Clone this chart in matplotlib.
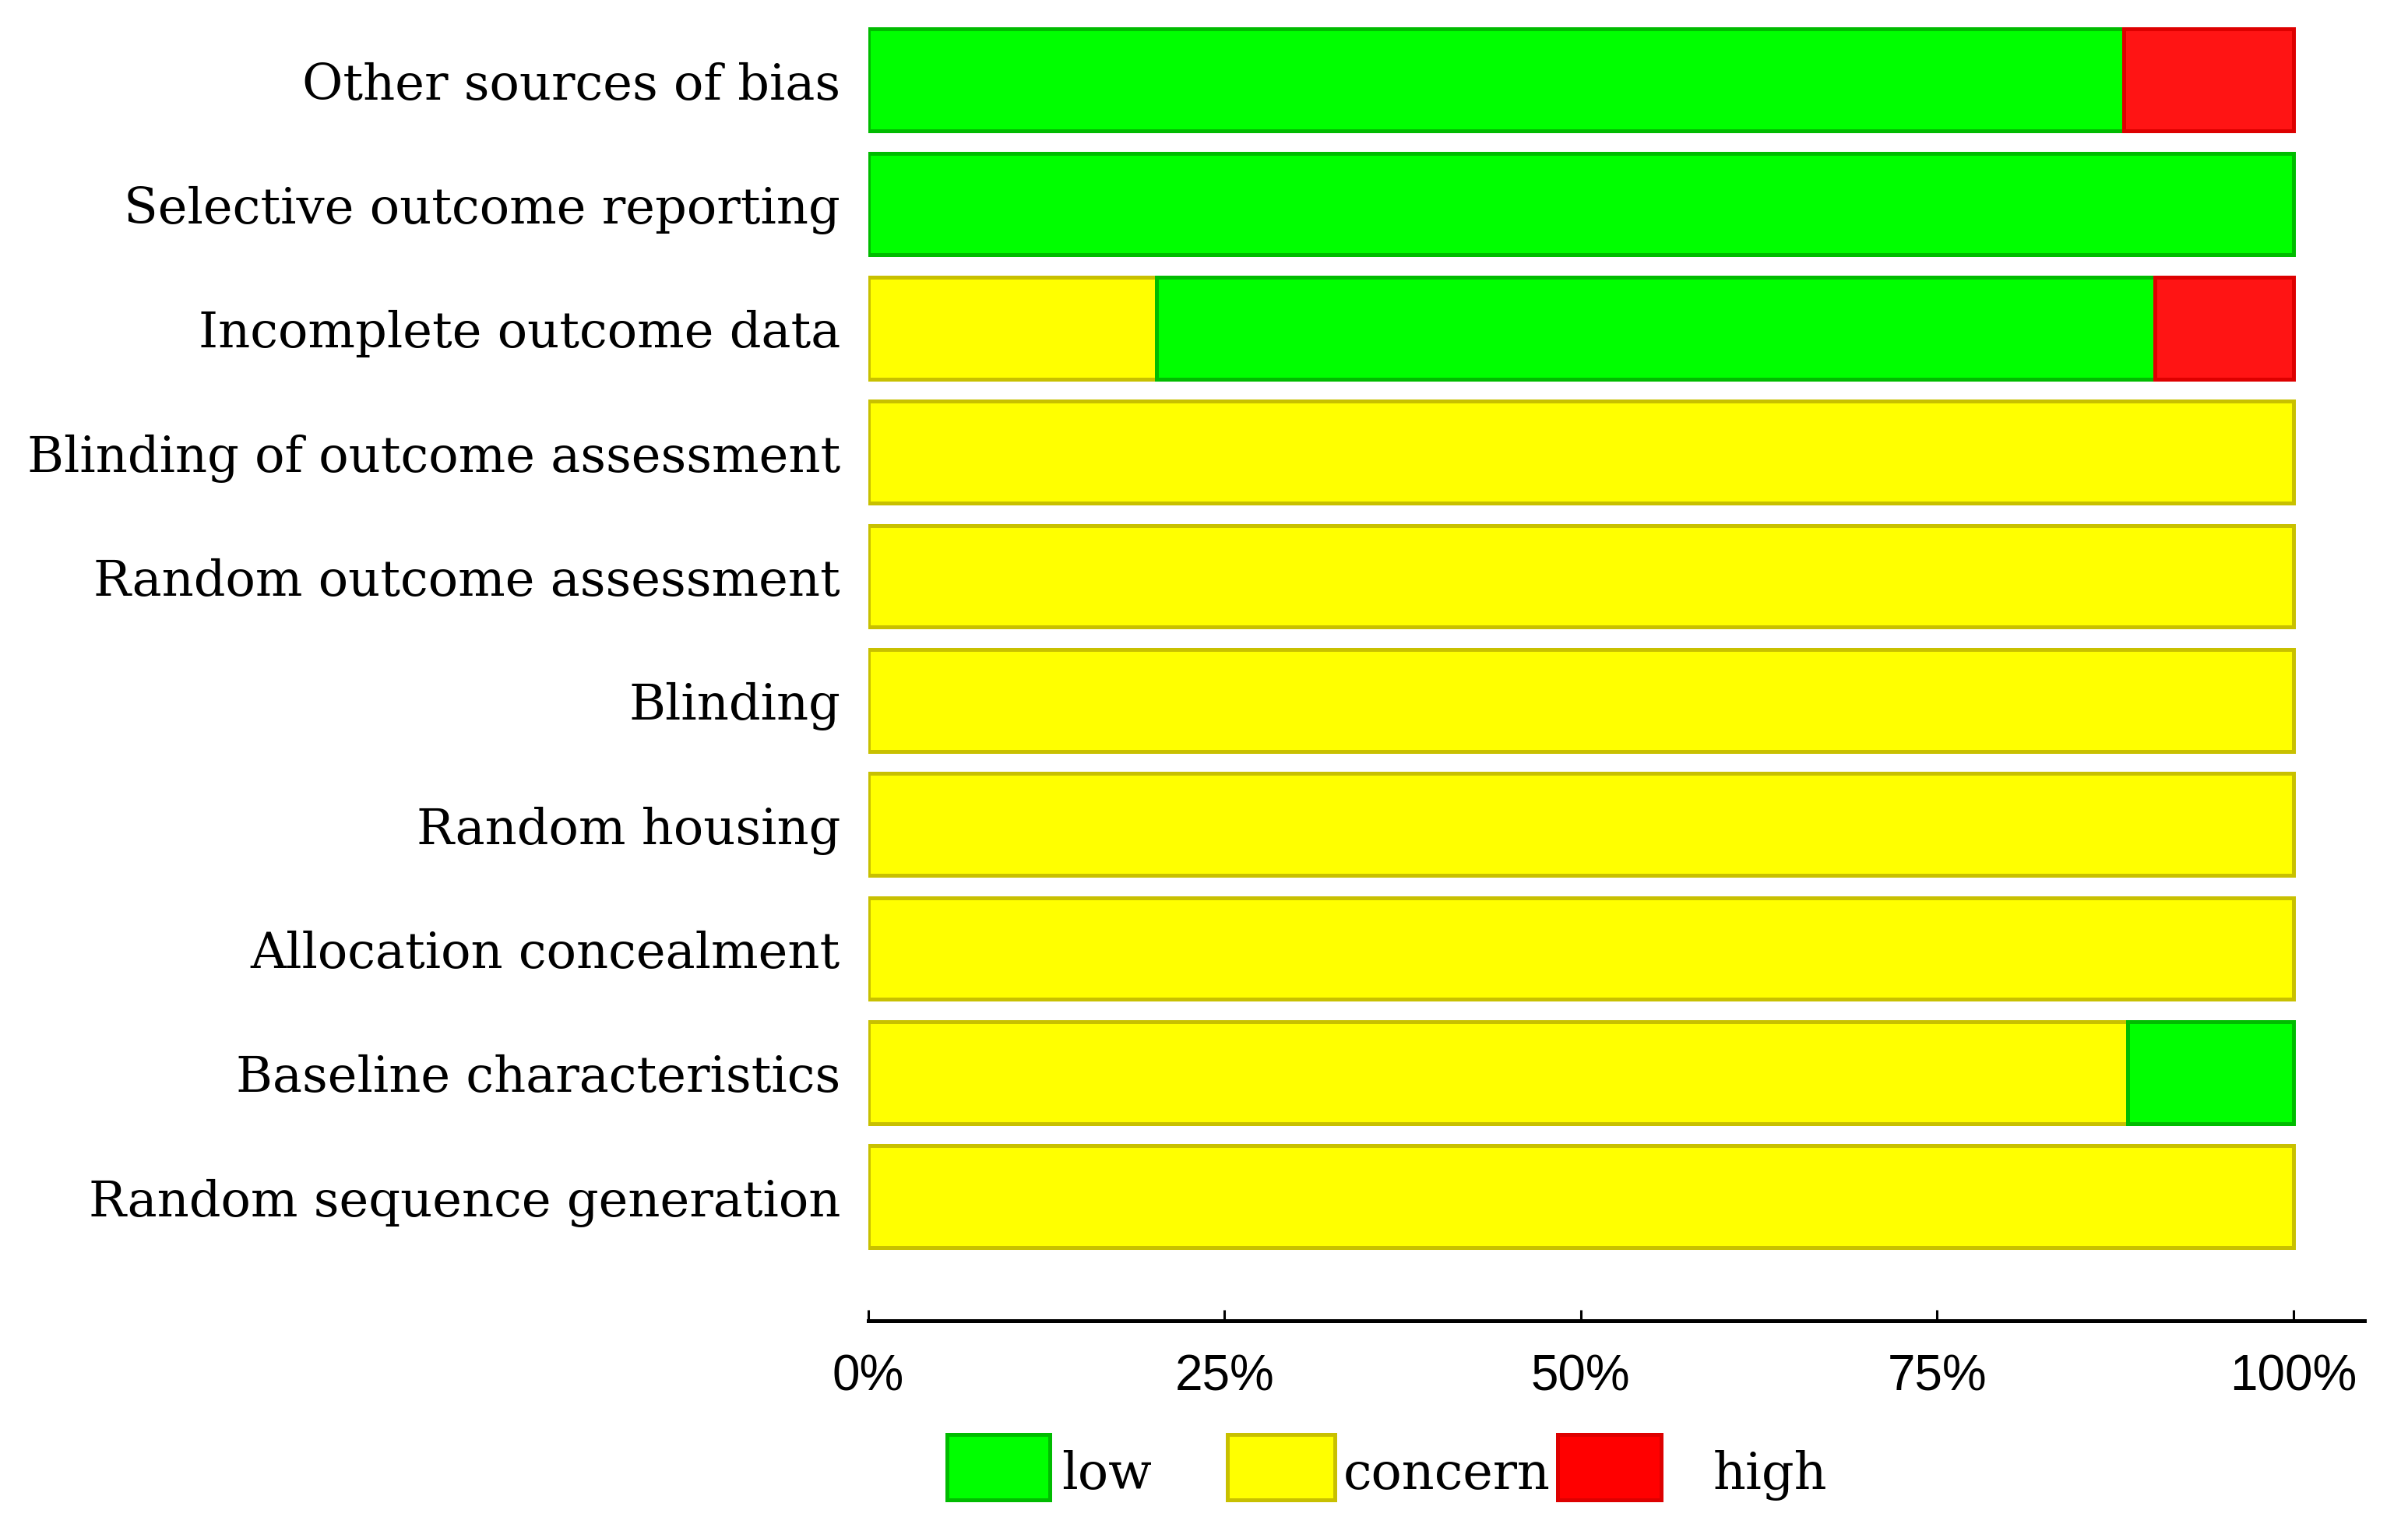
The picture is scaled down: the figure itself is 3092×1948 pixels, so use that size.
import matplotlib
matplotlib.use("Agg")
import matplotlib.pyplot as plt
from matplotlib.patches import Rectangle
import numpy as np

# ---- data (top to bottom order as in the chart) ----
categories = [
    "Other sources of bias",
    "Selective outcome reporting",
    "Incomplete outcome data",
    "Blinding of outcome assessment",
    "Random outcome assessment",
    "Blinding",
    "Random housing",
    "Allocation concealment",
    "Baseline characteristics",
    "Random sequence generation",
]
concern = [0, 0, 20.2, 100, 100, 100, 100, 100, 88.4, 100]
low = [88.1, 100, 70.1, 0, 0, 0, 0, 0, 11.6, 0]
high = [11.9, 0, 9.7, 0, 0, 0, 0, 0, 0, 0]
xticks = [0, 25, 50, 75, 100]
xtick_labels = ["0%", "25%", "50%", "75%", "100%"]
legend_labels = ["low", "concern", "high"]

# ---- styling ----
C_LOW, E_LOW = "#00FF00", "#00BB00"
C_CON, E_CON = "#FFFF00", "#C8C000"
C_HIGH, E_HIGH = "#FF1414", "#DD0000"
SERIF = ["DejaVu Serif", "Liberation Serif"]
NARROW = ["Liberation Sans Narrow", "Liberation Sans", "DejaVu Sans"]

W, H = 3092, 1949
fig = plt.figure(figsize=(W / 100, H / 100), dpi=100)

def fx(px):
    return px / W

def fy(py):
    return 1 - py / H

left_px, right_px = 1115, 3036
top_px, spine_px = 24, 1697
ax = fig.add_axes([fx(left_px), fy(spine_px), fx(right_px - left_px), (spine_px - top_px) / H])

n = len(categories)
y = np.arange(n)[::-1]  # first category at top
concern = np.array(concern, float)
low = np.array(low, float)
high = np.array(high, float)
lw = 3.6
bh = 0.82

ax.barh(y, concern, height=bh, left=0, color=C_CON, edgecolor=E_CON, linewidth=lw)
ax.barh(y, low, height=bh, left=concern, color=C_LOW, edgecolor=E_LOW,
        linewidth=np.where(low > 0, lw, 0))
ax.barh(y, high, height=bh, left=concern + low, color=C_HIGH, edgecolor=E_HIGH,
        linewidth=np.where(high > 0, lw, 0))

ax.set_xlim(0, 105)
ax.set_ylim(-1.0, n - 0.5)

ax.set_yticks(y)
ax.set_yticklabels(categories, fontsize=46, family=SERIF)
ax.tick_params(axis="y", length=0, pad=26)

ax.set_xticks(xticks)
ax.set_xticklabels(xtick_labels, fontsize=46, family=NARROW)
ax.tick_params(axis="x", direction="in", length=10, width=2.2, pad=30, color="black")

for s in ["top", "right", "left"]:
    ax.spines[s].set_visible(False)
ax.spines["bottom"].set_linewidth(3.6)
ax.spines["bottom"].set_color("black")

# ---- legend (manual, figure coords) ----
box_y0, box_y1 = 1843, 1927
boxes = [
    (1216, 1348, C_LOW, E_LOW, 1363),
    (1576, 1714, C_CON, E_CON, 1725),
    (2000, 2133, "#FF0000", E_HIGH, 2200),
]
for (x0, x1, fc, ec, tx), lab in zip(boxes, legend_labels):
    fig.patches.append(Rectangle((fx(x0), fy(box_y1)), fx(x1 - x0), (box_y1 - box_y0) / H,
                                 transform=fig.transFigure, facecolor=fc, edgecolor=ec,
                                 linewidth=3.6))
    fig.text(fx(tx), fy(1912), lab, fontsize=47, family=SERIF, ha="left", va="baseline")

fig.savefig("out.png", dpi=100, facecolor="white")
